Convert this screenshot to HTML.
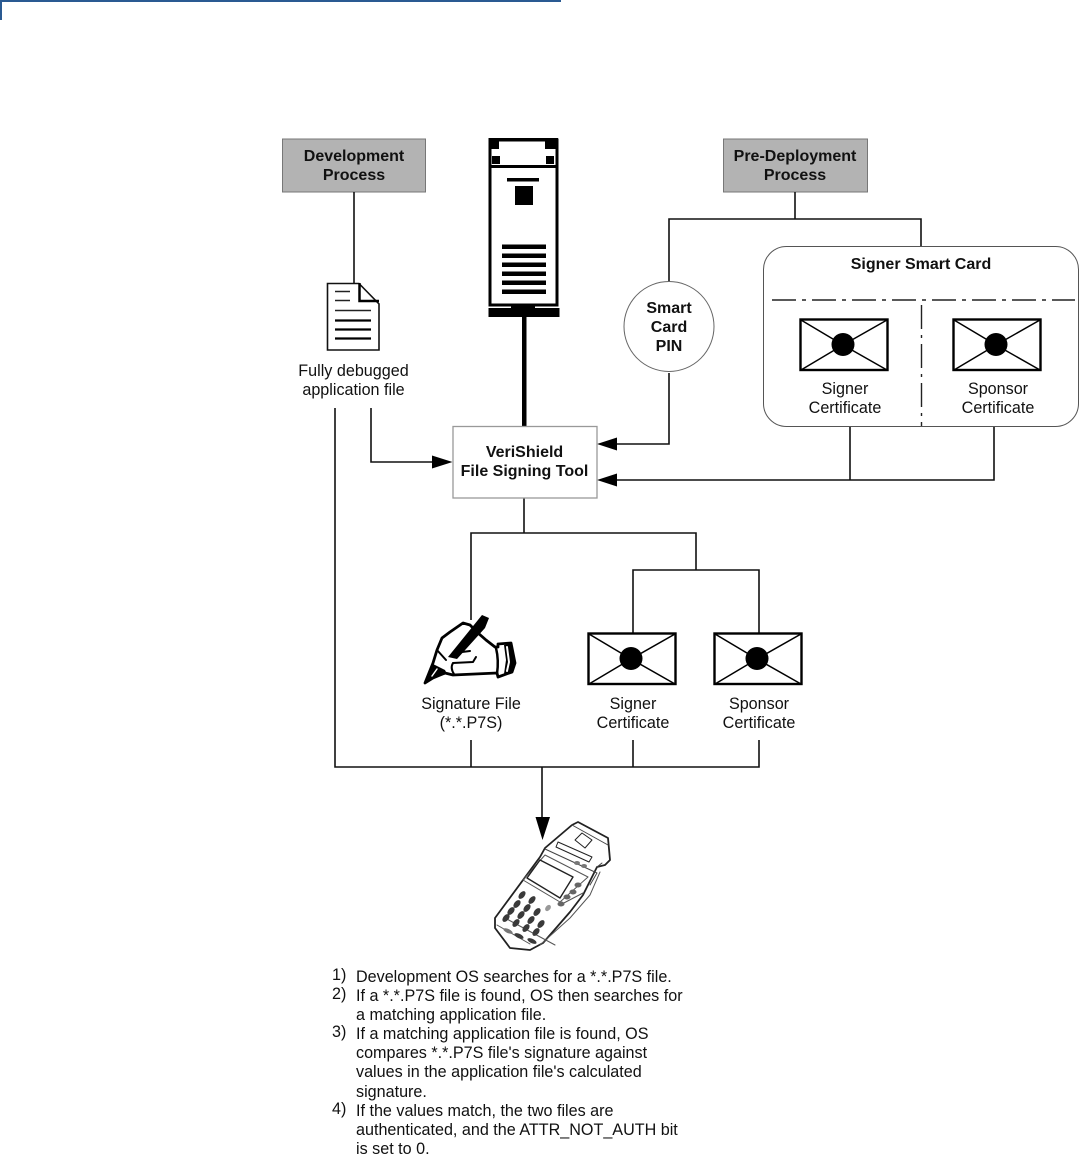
<!DOCTYPE html>
<html><head><meta charset="utf-8"><style>
html,body{margin:0;padding:0;background:#fff}
svg{display:block}
text{font-family:"Liberation Sans",sans-serif;font-size:16.15px;fill:#111}
.b{font-weight:bold;font-size:16px}
.m{text-anchor:middle}
.l{stroke:#111;stroke-width:1.6;fill:none}
</style></head><body>
<svg width="1079" height="1171" viewBox="0 0 1079 1171" xmlns="http://www.w3.org/2000/svg">
<rect x="0" y="0" width="561" height="2" fill="#2a5a92"/>
<rect x="0" y="0" width="2" height="20" fill="#2a5a92"/>

<!-- boxes -->
<rect x="282.500" y="139" width="143" height="53" fill="#b3b3b3" stroke="#777" stroke-width="1"/>
<rect x="723.500" y="139" width="144" height="53" fill="#b3b3b3" stroke="#777" stroke-width="1"/>
<text class="b m" x="354" y="161">Development</text>
<text class="b m" x="354" y="180">Process</text>
<text class="b m" x="795" y="161">Pre-Deployment</text>
<text class="b m" x="795" y="180">Process</text>

<!-- connectors -->
<path class="l" d="M354 192V283M795 192V219M669 283V219H921V247M669 373V444H612M850 426V480M994 426V480H612M371 408V462H433M335 408V767H759V740M471 740V767M633 740V767M524 498V533H471V620M524 533H696V570M633 633V570H759V633M542 767V818"/>
<path d="M597 444L617 437.500V450.500ZM597 480L617 473.500V486.500ZM452.500 462L432 455.500V468.500Z" fill="#000"/>
<path d="M542.500 840L535.500 817H550Z" fill="#000"/>

<!-- tower device -->
<rect x="490" y="140" width="67" height="165" fill="#fff" stroke="#000" stroke-width="3"/>
<rect x="488.500" y="138" width="69.500" height="3" fill="#000"/>
<rect x="488.500" y="138" width="10.500" height="11" fill="#000"/>
<rect x="545" y="138" width="13" height="11" fill="#000"/>
<rect x="492" y="156" width="8" height="8" fill="#000"/>
<rect x="546" y="156" width="8" height="8" fill="#000"/>
<rect x="489" y="165" width="69" height="3" fill="#000"/>
<rect x="507" y="178" width="32" height="3.500" fill="#000"/>
<rect x="515" y="186" width="18" height="19" fill="#000"/>
<g fill="#000">
<rect x="502" y="244.500" width="44" height="4.500"/>
<rect x="502" y="253.500" width="44" height="4.500"/>
<rect x="502" y="262.500" width="44" height="4.500"/>
<rect x="502" y="271.500" width="44" height="4.500"/>
<rect x="502" y="280.500" width="44" height="4.500"/>
<rect x="502" y="289.500" width="44" height="4.500"/>
<rect x="511" y="304" width="24" height="6"/>
<rect x="488.500" y="308" width="71" height="9"/>
<rect x="522" y="316" width="4.500" height="110"/>
</g>

<!-- VeriShield -->
<rect x="453" y="426.500" width="144" height="71.500" fill="#fff" stroke="#999" stroke-width="1.300"/>
<text class="b m" x="524.500" y="457">VeriShield</text>
<text class="b m" x="524.500" y="476">File Signing Tool</text>

<!-- document -->
<path d="M327.500 283.500H359L379 304V350H327.500Z" fill="#fff" stroke="#111" stroke-width="1.600"/>
<path d="M359.500 283V301H379" fill="none" stroke="#000" stroke-width="2.500"/>
<path d="M335 291.500H350M335 300.500H350M335 310.500H371" stroke="#222" stroke-width="1.500"/>
<path d="M335 320.500H371M335 329.500H371M335 338.500H371" stroke="#000" stroke-width="2.200"/>
<text class="m" x="353.500" y="376">Fully debugged</text>
<text class="m" x="353.500" y="395">application file</text>

<!-- PIN circle -->
<circle cx="669" cy="326.500" r="45" fill="#fff" stroke="#666" stroke-width="1"/>
<text class="b m" x="669" y="313">Smart</text>
<text class="b m" x="669" y="332">Card</text>
<text class="b m" x="669" y="351">PIN</text>

<!-- Smart card -->
<rect x="763.500" y="246.500" width="315" height="180" rx="23" fill="#fff" stroke="#555" stroke-width="1"/>
<text class="b m" x="921" y="269">Signer Smart Card</text>
<path d="M772 300H1075" stroke="#222" stroke-width="1.600" stroke-dasharray="24 6 4 6" fill="none"/>
<path d="M921.500 305V426" stroke="#222" stroke-width="1.400" stroke-dasharray="24 6 3 6" fill="none"/>

<!-- envelopes -->
<g fill="none" stroke="#000">
<rect x="800.500" y="319.500" width="87" height="50.500" fill="#fff" stroke-width="2.400"/>
<path d="M801 320L843 345L887 370M801 370L843 345L887 320" stroke-width="1.500"/>
<circle cx="843" cy="344.500" r="11.500" fill="#000" stroke="none"/>
</g>
<g fill="none" stroke="#000">
<rect x="953.500" y="319.500" width="87" height="50.500" fill="#fff" stroke-width="2.400"/>
<path d="M954 320L996 345L1040 370M954 370L996 345L1040 320" stroke-width="1.500"/>
<circle cx="996" cy="344.500" r="11.500" fill="#000" stroke="none"/>
</g>
<g fill="none" stroke="#000">
<rect x="588.500" y="633.500" width="87" height="50.500" fill="#fff" stroke-width="2.400"/>
<path d="M589 634L631 659L675 684M589 684L631 659L675 634" stroke-width="1.500"/>
<circle cx="631" cy="658.500" r="11.500" fill="#000" stroke="none"/>
</g>
<g fill="none" stroke="#000">
<rect x="714.500" y="633.500" width="87" height="50.500" fill="#fff" stroke-width="2.400"/>
<path d="M715 634L757 659L801 684M715 684L757 659L801 634" stroke-width="1.500"/>
<circle cx="757" cy="658.500" r="11.500" fill="#000" stroke="none"/>
</g>
<text class="m" x="845" y="394">Signer</text>
<text class="m" x="845" y="413">Certificate</text>
<text class="m" x="998" y="394">Sponsor</text>
<text class="m" x="998" y="413">Certificate</text>
<text class="m" x="633" y="709">Signer</text>
<text class="m" x="633" y="728">Certificate</text>
<text class="m" x="759" y="709">Sponsor</text>
<text class="m" x="759" y="728">Certificate</text>
<text class="m" x="471" y="709">Signature File</text>
<text class="m" x="471" y="728">(*.*.P7S)</text>

<!-- hand -->
<g stroke-linejoin="round" stroke-linecap="round">
<path d="M425 683L433 663L437 650L442 638L450 632L463 623L470 625L478 633L486 640L495 647L498 647L498 644L511 643L515 663L512 672L498 677L497 673L453 675L445 673L433 678Z" fill="#fff" stroke="#000" stroke-width="2.800"/>
<path d="M511 643L515 663L512 672L504 674L506 660L504 645Z" fill="#000"/>
<path d="M507 647L509 662L507 671" stroke="#fff" stroke-width="2" fill="none"/>
<path d="M496 648Q499 660 497 674" fill="none" stroke="#000" stroke-width="2.500"/>
<path d="M482 615L489 618L485 628L457 659L448 657Z" fill="#000"/>
<path d="M425 683L433 664L445 670L447 674L433 678Z" fill="#000"/>
<path d="M432 676L437 669" stroke="#fff" stroke-width="1.500"/>
<path d="M453 663L473 662L476 657M453 663Q450 668 454 674M437 650L446 660M462 652L470 651" fill="none" stroke="#000" stroke-width="2"/>
</g>

<!-- terminal -->
<g fill="none" stroke="#222" stroke-linejoin="round" stroke-linecap="round">
<path d="M495 918L540 857L545 848L572 825L578 822L608 838L610 860L605 865L597 867L583 895L570 912L543 943L530 950L510 948L495 928Z" fill="#fff" stroke-width="1.800"/>
<path d="M558 842L592 857L589 862L556 847ZM575 840L582 833L592 840L585 848Z" stroke-width="1"/>
<path d="M545 855L588 877L560 902L523 880Z" stroke="#555" stroke-width="1"/>
<path d="M527 878L540 860L573 877L560 898Z" fill="#fff" stroke-width="1.400"/>
<path d="M572 825L608 845M545 849L597 873L590 885M597 867L602 863" stroke="#444" stroke-width="1"/>
<path d="M497 925L530 944M505 918L555 945M560 905L583 893M540 945L570 918L590 895L600 872" stroke="#555" stroke-width="1"/>
<g stroke="none" fill="#3a3a3a">
<ellipse cx="522" cy="895" rx="4.500" ry="2.700" transform="rotate(-50 522 895)"/>
<ellipse cx="532" cy="900" rx="4.500" ry="2.700" transform="rotate(-50 532 900)"/>
<ellipse cx="517" cy="904" rx="4.500" ry="2.800" transform="rotate(-50 517 904)"/>
<ellipse cx="527" cy="908" rx="4.500" ry="2.800" transform="rotate(-50 527 908)"/>
<ellipse cx="537" cy="912" rx="4.500" ry="2.800" transform="rotate(-50 537 912)"/>
<ellipse cx="548" cy="908" rx="3.500" ry="2.400" transform="rotate(-50 548 908)" fill="#999"/>
<ellipse cx="511" cy="911" rx="4.500" ry="2.800" transform="rotate(-50 511 911)"/>
<ellipse cx="521" cy="915" rx="4.500" ry="2.800" transform="rotate(-50 521 915)"/>
<ellipse cx="531" cy="920" rx="4.500" ry="2.800" transform="rotate(-50 531 920)"/>
<ellipse cx="541" cy="924" rx="4.500" ry="2.800" transform="rotate(-50 541 924)"/>
<ellipse cx="506" cy="918" rx="4.500" ry="2.800" transform="rotate(-50 506 918)"/>
<ellipse cx="516" cy="923" rx="4.500" ry="2.800" transform="rotate(-50 516 923)"/>
<ellipse cx="526" cy="928" rx="4.500" ry="2.800" transform="rotate(-50 526 928)"/>
<ellipse cx="536" cy="932" rx="4.500" ry="2.800" transform="rotate(-50 536 932)"/>
<ellipse cx="508" cy="931" rx="5" ry="2" transform="rotate(25 508 931)" fill="#777"/>
<ellipse cx="519" cy="936" rx="5" ry="2.200" transform="rotate(25 519 936)"/>
<ellipse cx="532" cy="941" rx="5" ry="2.200" transform="rotate(25 532 941)"/>
<ellipse cx="561" cy="904" rx="3.500" ry="2.500" fill="#666"/>
<ellipse cx="567" cy="897" rx="3.500" ry="2.500" fill="#666"/>
<ellipse cx="573" cy="892" rx="3.500" ry="2.500" fill="#666"/>
<ellipse cx="578" cy="885" rx="3.500" ry="2.500" fill="#666"/>
<ellipse cx="577" cy="863" rx="3" ry="2" fill="#777"/>
<ellipse cx="584" cy="866" rx="3" ry="2" fill="#777"/>
</g>
</g>

<!-- notes -->
<text x="332" y="980">1)</text><text x="356" y="982">Development OS searches for a *.*.P7S file.</text>
<text x="332" y="999">2)</text><text x="356" y="1001">If a *.*.P7S file is found, OS then searches for</text>
<text x="356" y="1020">a matching application file.</text>
<text x="332" y="1037">3)</text><text x="356" y="1039">If a matching application file is found, OS</text>
<text x="356" y="1058">compares *.*.P7S file's signature against</text>
<text x="356" y="1077">values in the application file's calculated</text>
<text x="356" y="1097">signature.</text>
<text x="332" y="1114">4)</text><text x="356" y="1116">If the values match, the two files are</text>
<text x="356" y="1135">authenticated, and the ATTR_NOT_AUTH bit</text>
<text x="356" y="1154">is set to 0.</text>
</svg>
</body></html>
